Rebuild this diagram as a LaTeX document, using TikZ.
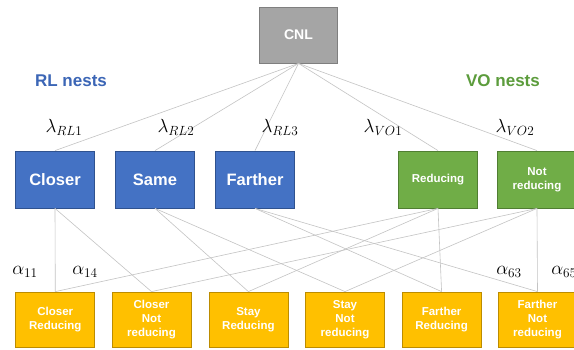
\RequirePackage{fix-cm}
\documentclass[tikz,border=0pt]{standalone}
\usepackage{fontspec}
\setmainfont{Liberation Sans}
\definecolor{rlblue}{HTML}{4472C4}
\definecolor{rlblueD}{HTML}{2F528F}
\definecolor{vogreen}{HTML}{70AD47}
\definecolor{vogreenD}{HTML}{507E32}
\definecolor{altyel}{HTML}{FFC000}
\definecolor{altyelD}{HTML}{BC8C00}
\definecolor{cnlgray}{HTML}{A5A5A5}
\definecolor{cnlgrayD}{HTML}{7F7F7F}
\definecolor{linkgray}{HTML}{C4C4C4}
\definecolor{rltext}{HTML}{3C66B6}
\definecolor{votext}{HTML}{5C9C3C}
\tikzset{
  box/.style={draw, line width=0.8pt, inner sep=0pt, minimum width=79pt, minimum height=56pt, align=center, text=white},
  cnlbox/.style={box, fill=cnlgray, draw=cnlgrayD, minimum width=78pt, font=\fontsize{14}{16}\selectfont\bfseries},
  rlbox/.style={box, fill=rlblue, draw=rlblueD, minimum height=57pt, font=\fontsize{16.5}{19}\selectfont\bfseries},
  vobox/.style={box, fill=vogreen, draw=vogreenD, minimum height=57pt, font=\fontsize{11.5}{14}\selectfont\bfseries},
  altbox/.style={box, fill=altyel, draw=altyelD, minimum height=55pt, font=\fontsize{11.5}{14}\selectfont\bfseries},
  nestlabel/.style={font=\fontsize{17}{20}\selectfont\bfseries, inner sep=0pt},
  coef/.style={font=\fontsize{19}{22}\selectfont, inner sep=0pt},
  link/.style={draw=linkgray, line width=0.6pt}
}
\begin{document}
\begin{tikzpicture}[x=1pt,y=-1pt]
\useasboundingbox (0,0) rectangle (574,350);
\clip (0,0) rectangle (574,350);
\fill[white] (0,0) rectangle (574,350);

% top node
\node[cnlbox] (cnl) at (298.5,35) {CNL};

% nest labels
\node[nestlabel, text=rltext] (rlnests) at (71,81) {RL nests};
\node[nestlabel, text=votext] (vonests) at (503,81) {VO nests};

% nests
\node[rlbox] (closer) at (55,179.5) {Closer};
\node[rlbox] (same) at (155,179.5) {Same};
\node[rlbox] (farther) at (255,179.5) {Farther};
\node[vobox] (red) at (438,179.5) {Reducing};
\node[vobox] (notred) at (537,179.5) {Not\\reducing};

% alternatives
\node[altbox] (cr) at (55.3,319.5) {Closer\\Reducing};
\node[altbox] (cnr) at (151.5,319.5) {Closer\\Not\\reducing};
\node[altbox] (sr) at (248.4,319.5) {Stay\\Reducing};
\node[altbox] (snr) at (345,319.5) {Stay\\Not\\reducing};
\node[altbox] (fr) at (441.6,319.5) {Farther\\Reducing};
\node[altbox] (fnr) at (537.5,319.5) {Farther\\Not\\reducing};

% links root -> nests
\foreach \n in {closer,same,farther,red,notred}
  \draw[link] (cnl.south) -- (\n.north);

% links nests -> alternatives
\draw[link] (closer.south) -- (cr.north);
\draw[link] (closer.south) -- (cnr.north);
\draw[link] (same.south) -- (sr.north);
\draw[link] (same.south) -- (snr.north);
\draw[link] (farther.south) -- (fr.north);
\draw[link] (farther.south) -- (fnr.north);
\draw[link] (red.south) -- (cr.north);
\draw[link] (red.south) -- (sr.north);
\draw[link] (red.south) -- (fr.north);
\draw[link] (notred.south) -- (cnr.north);
\draw[link] (notred.south) -- (snr.north);
\draw[link] (notred.south) -- (fnr.north);

% coefficients
\node[coef] (l1) at (64,127) {$\lambda_{RL1}$};
\node[coef] (l2) at (176,127) {$\lambda_{RL2}$};
\node[coef] (l3) at (280,127) {$\lambda_{RL3}$};
\node[coef] (l4) at (383,127) {$\lambda_{VO1}$};
\node[coef] (l5) at (515,127) {$\lambda_{VO2}$};
\node[coef] (a11) at (25,272) {$\alpha_{11}$};
\node[coef] (a14) at (85,272) {$\alpha_{14}$};
\node[coef] (a63) at (509,272) {$\alpha_{63}$};
\node[coef] (a65) at (564,272) {$\alpha_{65}$};
\end{tikzpicture}
\end{document}
